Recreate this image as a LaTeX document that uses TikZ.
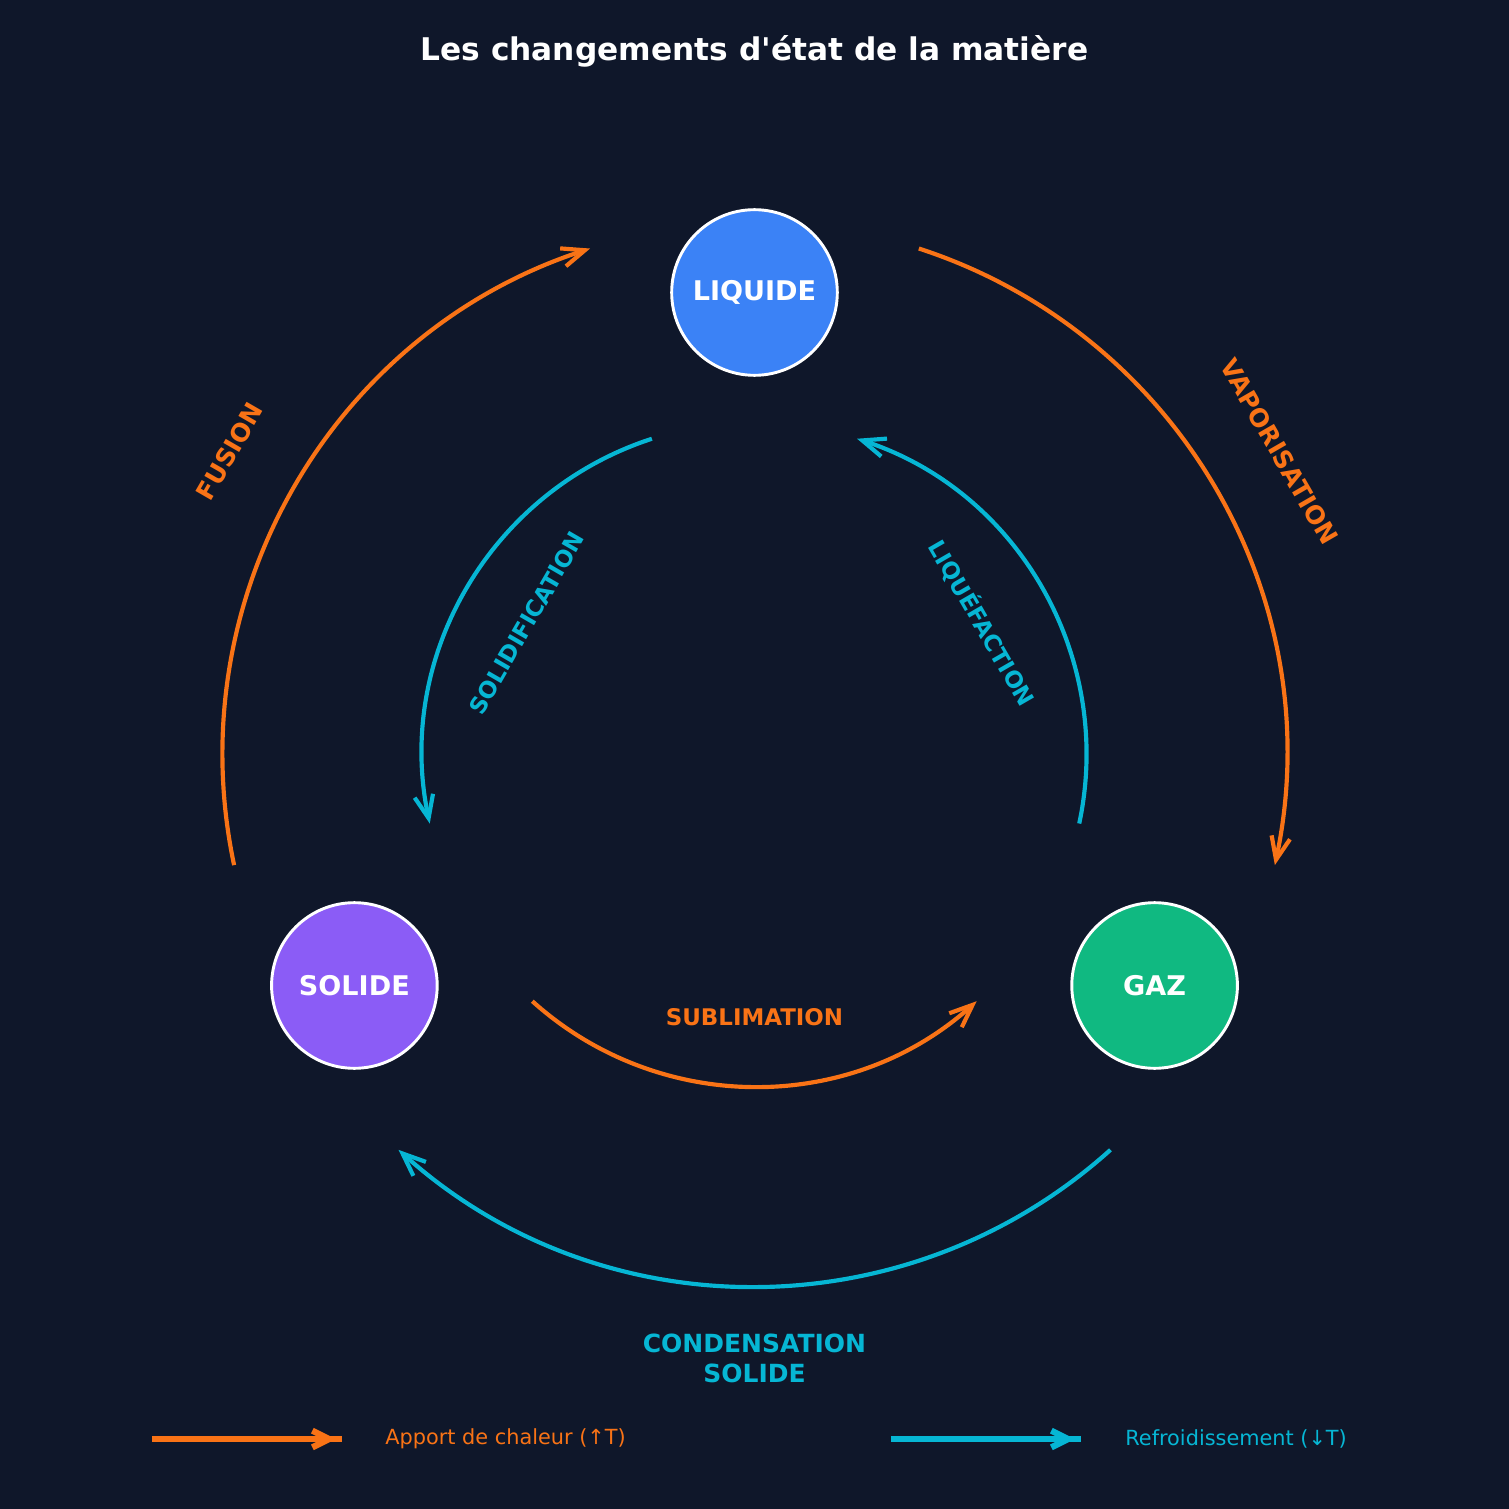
\documentclass[tikz,border=0pt]{standalone}
\usepackage{fontspec}
\setmainfont{DejaVu Sans}[Ligatures=TeXOff]
\usetikzlibrary{arrows.meta}
\definecolor{bgc}{HTML}{0F172A}
\definecolor{liqc}{HTML}{3B82F6}
\definecolor{solc}{HTML}{8B5CF6}
\definecolor{gazc}{HTML}{10B981}
\definecolor{hotc}{HTML}{F97316}
\definecolor{coldc}{HTML}{06B6D4}
\begin{document}
\begin{tikzpicture}[x=0.48pt,y=0.48pt,
  statenode/.style={circle,draw=white,line width=1.4pt,minimum size=79.5pt,inner sep=0pt,
    text=white,font=\fontsize{13}{15}\selectfont\bfseries},
  procarc/.style={line width=2pt,-{Straight Barb[length=11pt,width=9pt]}},
  hot/.style={draw=hotc},
  cold/.style={draw=coldc},
  proclabel/.style={font=\fontsize{11}{13.2}\selectfont\bfseries,inner sep=0pt,align=center},
  outlabel/.style={font=\fontsize{12}{14.4}\selectfont\bfseries,inner sep=0pt,align=center},
  legtext/.style={font=\fontsize{10}{12}\selectfont,anchor=west,inner sep=0pt}]
\fill[bgc] (-754.5,-754.5) rectangle (754.5,754.5);
\useasboundingbox (-754.5,-754.5) rectangle (754.5,754.5);
% title
\node[text=white,font=\fontsize{15}{18}\selectfont\bfseries] (title) at (0,703) {Les changements d'état de la matière};
% states
\node[statenode,fill=liqc] (liq) at (90:462) {LIQUIDE};
\node[statenode,fill=solc] (sol) at (210:462) {SOLIDE};
\node[statenode,fill=gazc] (gaz) at (-30:462) {GAZ};
% arc start points
\coordinate (fusA) at (192:532);
\coordinate (vapA) at (72:532);
\coordinate (conA) at (-48:532);
\coordinate (solA) at (108:332);
\coordinate (lqfA) at (-12:332);
\coordinate (subA) at (-132:332);
% outer arcs
\draw[procarc,hot] (fusA) arc[start angle=192,end angle=108,radius=532];
\draw[procarc,hot] (vapA) arc[start angle=72,end angle=-12,radius=532];
\draw[procarc,cold] (conA) arc[start angle=-48,end angle=-132,radius=532];
% inner arcs
\draw[procarc,cold] (solA) arc[start angle=108,end angle=192,radius=332];
\draw[procarc,cold] (lqfA) arc[start angle=-12,end angle=72,radius=332];
\draw[procarc,hot] (subA) arc[start angle=-132,end angle=-48,radius=332];
% labels
\node[outlabel,text=hotc,rotate=60] (lfus) at (150:606) {FUSION};
\node[outlabel,text=hotc,rotate=-60] (lvap) at (30:606) {VAPORISATION};
\node[outlabel,text=coldc] (lcon) at (0,-604) {CONDENSATION\\SOLIDE};
\node[proclabel,text=coldc,rotate=60] (lsol) at (150:263) {SOLIDIFICATION};
\node[proclabel,text=coldc,rotate=-60] (llqf) at (30:263) {LIQUÉFACTION};
\node[proclabel,text=hotc] (lsub) at (0,-262.5) {SUBLIMATION};
% legend
\coordinate (lh1) at (-602.5,-684.5);
\coordinate (lh2) at (-412.5,-684.5);
\coordinate (lh3) at (-505.5,-684.5);
\coordinate (lh4) at (-418.5,-684.5);
\draw[hotc,line width=2.8pt] (lh1) -- (lh2);
\draw[hotc,line width=3pt,-{Straight Barb[length=8pt,width=8pt]}] (lh3) -- (lh4);
\node[legtext,text=hotc] (lht) at (-369.5,-684.5) {Apport de chaleur (↑T)};
\coordinate (lc1) at (136.5,-684.5);
\coordinate (lc2) at (326.5,-684.5);
\coordinate (lc3) at (234.5,-684.5);
\coordinate (lc4) at (320.5,-684.5);
\draw[coldc,line width=2.8pt] (lc1) -- (lc2);
\draw[coldc,line width=3pt,-{Straight Barb[length=8pt,width=8pt]}] (lc3) -- (lc4);
\node[legtext,text=coldc] (lct) at (370.5,-684.5) {Refroidissement (↓T)};
\end{tikzpicture}
\end{document}
